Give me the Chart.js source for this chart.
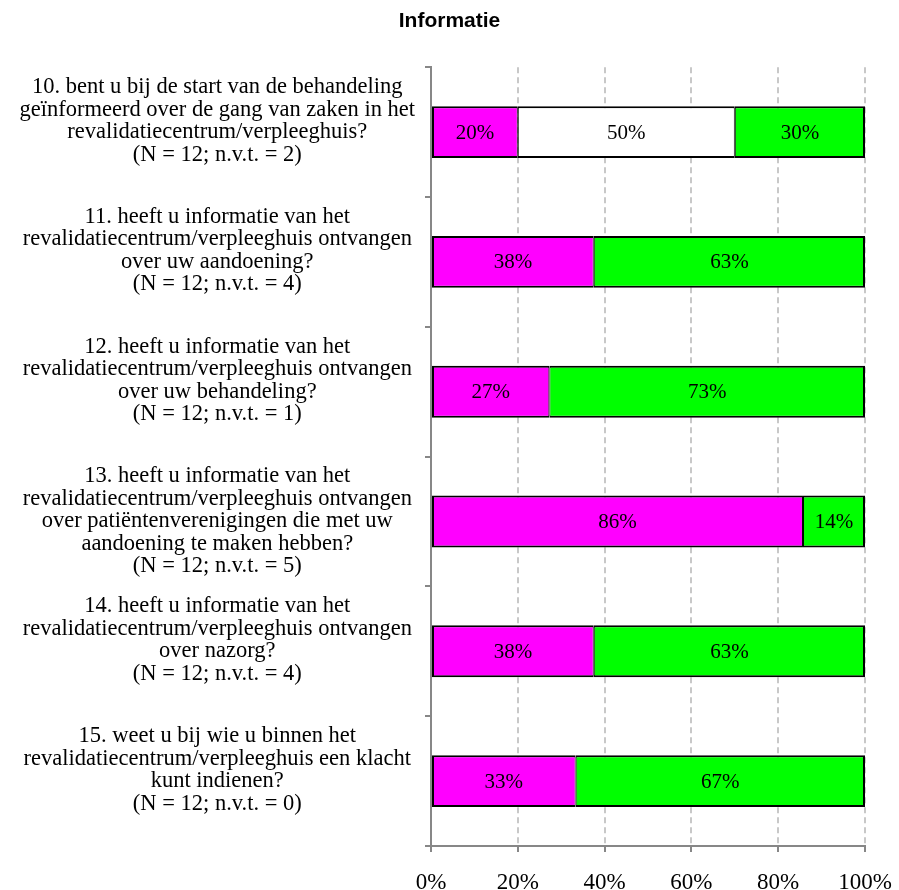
<!DOCTYPE html>
<html>
<head>
<meta charset="utf-8">
<title>Informatie</title>
<script src="https://cdn.jsdelivr.net/npm/chart.js@4"></script>
<style>
  html, body { margin: 0; padding: 0; background: #ffffff; }
  #wrap { width: 899px; height: 890px; }
</style>
</head>
<body>
<div id="wrap"><canvas id="chart" width="899" height="890"></canvas></div>
<script>
// Vragen (elke regel een eigen tekstregel in het label)
const categories = [
  ['10. bent u bij de start van de behandeling', 'geïnformeerd over de gang van zaken in het', 'revalidatiecentrum/verpleeghuis?', '(N = 12; n.v.t. = 2)', ''],
  ['11. heeft u informatie van het', 'revalidatiecentrum/verpleeghuis ontvangen', 'over uw aandoening?', '(N = 12; n.v.t. = 4)', ''],
  ['12. heeft u informatie van het', 'revalidatiecentrum/verpleeghuis ontvangen', 'over uw behandeling?', '(N = 12; n.v.t. = 1)', ''],
  ['13. heeft u informatie van het', 'revalidatiecentrum/verpleeghuis ontvangen', 'over patiëntenverenigingen die met uw', 'aandoening te maken hebben?', '(N = 12; n.v.t. = 5)'],
  ['14. heeft u informatie van het', 'revalidatiecentrum/verpleeghuis ontvangen', 'over nazorg?', '(N = 12; n.v.t. = 4)', ''],
  ['15. weet u bij wie u binnen het', 'revalidatiecentrum/verpleeghuis een klacht', 'kunt indienen?', '(N = 12; n.v.t. = 0)', '']
];

// Percentages per antwoordcategorie
const neeValues   = [20, 37.5, 27.27, 85.71, 37.5, 33.33];
const deelsValues = [50, null, null, null, null, null];
const jaValues    = [30, 62.5, 72.73, 14.29, 62.5, 66.67];

// As-labels onderaan
const xTickValues = [0, 20, 40, 60, 80, 100];

const SERIF = '"Liberation Serif", "Times New Roman", serif';
const AXIS_GREY = '#878787';

// Percentage in het midden van elk balksegment
const segmentLabels = {
  id: 'segmentLabels',
  afterDatasetsDraw(chart) {
    const ctx = chart.ctx;
    ctx.save();
    ctx.font = '21px ' + SERIF;
    ctx.fillStyle = '#000000';
    ctx.textAlign = 'center';
    ctx.textBaseline = 'middle';
    chart.data.datasets.forEach((ds, i) => {
      const meta = chart.getDatasetMeta(i);
      meta.data.forEach((bar, j) => {
        const v = ds.data[j];
        if (v === null || v === undefined) return;
        ctx.fillText(Math.round(v) + '%', (bar.x + bar.base) / 2, bar.y + 1);
      });
    });
    ctx.restore();
  }
};

const commonBar = {
  borderColor: '#000000',
  borderSkipped: false,
  barPercentage: 0.4,
  categoryPercentage: 1.0
};

new Chart(document.getElementById('chart'), {
  type: 'bar',
  data: {
    labels: categories,
    datasets: [
      Object.assign({ label: 'nee', data: neeValues, backgroundColor: '#FF00FF',
        borderWidth: { left: 2, right: 1, top: 2, bottom: 2 } }, commonBar),
      Object.assign({ label: 'deels', data: deelsValues, backgroundColor: '#FFFFFF',
        borderWidth: { left: 1, right: 1, top: 2, bottom: 2 } }, commonBar),
      Object.assign({ label: 'ja', data: jaValues, backgroundColor: '#00FF00',
        borderWidth: { left: 1, right: 2, top: 2, bottom: 2 } }, commonBar)
    ]
  },
  options: {
    indexAxis: 'y',
    responsive: false,
    devicePixelRatio: 1,
    animation: false,
    layout: { padding: 0 },
    plugins: {
      legend: { display: false },
      tooltip: { enabled: false },
      title: {
        display: true,
        text: 'Informatie',
        color: '#000000',
        font: { family: '"Liberation Sans", Arial, sans-serif', size: 21, weight: 'bold', lineHeight: 1.2 },
        padding: { top: 9, bottom: 33 }
      }
    },
    scales: {
      x: {
        stacked: true,
        min: 0,
        max: 100,
        afterBuildTicks(scale) {
          scale.ticks = xTickValues.map(v => ({ value: v }));
        },
        afterFit(scale) {
          scale.height = 44;
          scale.paddingLeft = 0;
          scale.paddingRight = 34;
        },
        ticks: {
          color: '#000000',
          font: { family: SERIF, size: 23, lineHeight: 1.2 },
          padding: 17,
          callback: v => v + '%'
        },
        grid: {
          drawOnChartArea: true,
          drawTicks: true,
          tickLength: 6,
          tickWidth: 2,
          tickColor: AXIS_GREY,
          lineWidth: 2,
          color: ctx => (ctx.index === 0 ? 'rgba(0,0,0,0)' : '#C8C8C8')
        },
        border: { display: true, color: AXIS_GREY, width: 2, dash: [6, 4] }
      },
      y: {
        stacked: true,
        afterFit(scale) {
          scale.width = 431;
          scale.paddingTop = 0;
          scale.paddingBottom = 0;
        },
        ticks: {
          autoSkip: false,
          crossAlign: 'center',
          color: '#000000',
          padding: 10,
          font: { family: SERIF, size: 22.5, lineHeight: '22.5px' }
        },
        grid: {
          offset: true,
          drawOnChartArea: false,
          drawTicks: true,
          tickLength: 6,
          tickWidth: 2,
          tickColor: AXIS_GREY,
          lineWidth: 2,
          color: AXIS_GREY
        },
        border: { display: true, color: AXIS_GREY, width: 2 }
      }
    }
  },
  plugins: [segmentLabels]
});
</script>
</body>
</html>
